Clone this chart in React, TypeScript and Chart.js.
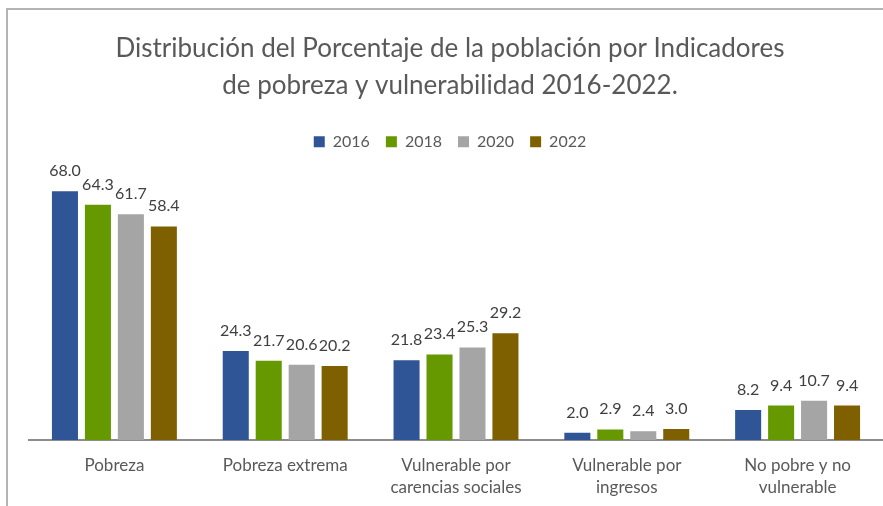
import React, { useEffect, useRef } from 'react';
import { Chart, registerables } from 'chart.js';

Chart.register(...registerables);

const categories: string[][] = [
  ['Pobreza'],
  ['Pobreza extrema'],
  ['Vulnerable por', 'carencias sociales'],
  ['Vulnerable por', 'ingresos'],
  ['No pobre y no', 'vulnerable'],
];
const years = ['2016', '2018', '2020', '2022'];
const values2016 = [68.0, 24.3, 21.8, 2.0, 8.2];
const values2018 = [64.3, 21.7, 23.4, 2.9, 9.4];
const values2020 = [61.7, 20.6, 25.3, 2.4, 10.7];
const values2022 = [58.4, 20.2, 29.2, 3.0, 9.4];
const seriesValues = [values2016, values2018, values2020, values2022];
const seriesColors = ['#2F5597', '#669900', '#A5A5A5', '#7F6000'];
const titleLines = [
  'Distribución del Porcentaje de la población por Indicadores',
  'de pobreza y vulnerabilidad 2016-2022.',
];

const FONT = 'Lato, "Open Sans", sans-serif';

const dataLabelPlugin = {
  id: 'dataLabels',
  afterDatasetsDraw(chart: any) {
    const ctx = chart.ctx;
    ctx.save();
    ctx.font = '16px ' + FONT;
    ctx.fillStyle = '#404040';
    ctx.textAlign = 'center';
    ctx.textBaseline = 'alphabetic';
    chart.data.datasets.forEach((ds: any, i: number) => {
      const meta = chart.getDatasetMeta(i);
      meta.data.forEach((bar: any, j: number) => {
        ctx.fillText(Number(ds.data[j]).toFixed(1), bar.x, bar.y - 15);
      });
    });
    ctx.restore();
  },
};

export default function App() {
  const ref = useRef<HTMLCanvasElement>(null);
  useEffect(() => {
    if (!ref.current) return;
    const chart = new Chart(ref.current, {
      type: 'bar',
      data: {
        labels: categories,
        datasets: years.map((y, i) => ({
          label: y,
          data: seriesValues[i],
          backgroundColor: seriesColors[i],
          borderWidth: 0,
          categoryPercentage: 0.772,
          barPercentage: 0.79,
        })),
      },
      options: {
        animation: false,
        responsive: false,
        maintainAspectRatio: false,
        layout: { padding: { left: 17, right: 0, top: 0, bottom: 0 } },
        plugins: {
          title: {
            display: true,
            text: titleLines,
            color: '#595959',
            font: { family: FONT, size: 26, weight: 400 as any, lineHeight: 1.42 },
            padding: { top: 30, bottom: 14 },
          },
          legend: {
            display: true,
            position: 'top',
            labels: {
              boxWidth: 11,
              boxHeight: 11,
              color: '#595959',
              font: { family: FONT, size: 16 },
              padding: 16,
            },
          },
          tooltip: { enabled: false },
        },
        scales: {
          x: {
            grid: { display: false, drawTicks: false },
            border: { display: true, color: '#8C8C8C', width: 2 },
            ticks: {
              color: '#595959',
              font: { family: FONT, size: 17, lineHeight: 1.3 },
              padding: 14,
              maxRotation: 0,
              autoSkip: false,
            },
            afterFit: (s: any) => {
              s.height = 66;
            },
          },
          y: {
            min: 0,
            max: 76.6,
            display: true,
            grid: { display: false, drawTicks: false },
            border: { display: false },
            ticks: { display: false },
            afterFit: (s: any) => {
              s.width = 12;
            },
          },
        },
      },
      plugins: [dataLabelPlugin],
    });
    return () => chart.destroy();
  }, []);

  return (
    <div
      style={{
        position: 'fixed',
        left: 0,
        top: 0,
        width: 883,
        height: 506,
        overflow: 'hidden',
        background: '#ffffff',
      }}
    >
      <div
        style={{
          position: 'absolute',
          left: 6,
          top: 8,
          width: 900,
          height: 520,
          borderTop: '2px solid #B4B4B4',
          borderLeft: '2px solid #B4B4B4',
        }}
      />
      <canvas
        ref={ref}
        width={883}
        height={506}
        style={{ position: 'absolute', left: 0, top: 0, width: 883, height: 506 }}
      />
    </div>
  );
}
